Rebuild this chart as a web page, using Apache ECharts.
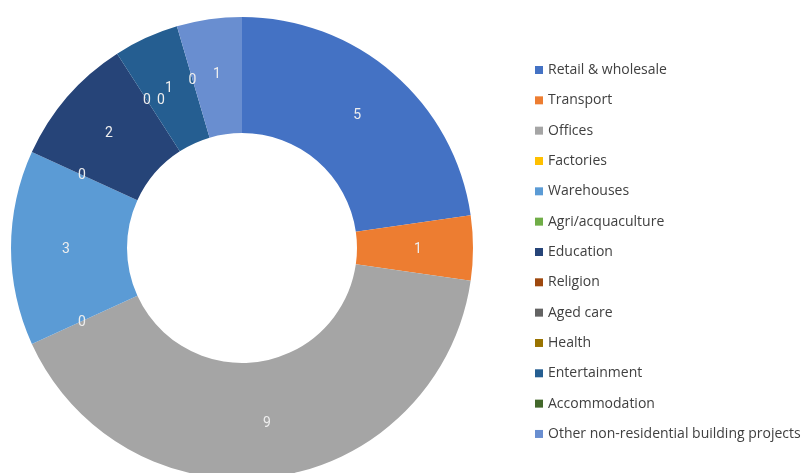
<!DOCTYPE html>
<html><head><meta charset="utf-8">
<script src="https://cdn.jsdelivr.net/npm/echarts@6/dist/echarts.min.js"></script>
<style>html,body{margin:0;padding:0;background:#fff}#c{width:807px;height:473px}</style>
</head><body><div id="c"></div>
<script>
const categories = ["Retail & wholesale","Transport","Offices","Factories","Warehouses","Agri/acquaculture","Education","Religion","Aged care","Health","Entertainment","Accommodation","Other non-residential building projects"];
const values = [5,1,9,0,3,0,2,0,0,0,1,0,1];
const colors = ["#4472C4","#ED7D31","#A5A5A5","#FFC000","#5B9BD5","#70AD47","#264478","#9E480E","#636363","#997300","#255E91","#43682B","#698ED0"];
// small nudges of overlapping zero-value labels (as in the reference)
const labelNudge = {"Aged care":[14,1], "Health":[14,1]};

const chart = echarts.init(document.getElementById('c'), null, {renderer:'canvas'});
chart.setOption({
  animation:false,
  color: colors,
  legend: {
    orient:'vertical', left:535, top:62, padding:0,
    itemWidth:8, itemHeight:8, itemGap:14.33,
    icon:'rect',
    textStyle:{fontFamily:'Open Sans', fontSize:14, color:'#404040', lineHeight:16},
    data: categories
  },
  series:[{
    type:'pie',
    center:[242,248],
    radius:[115,231],
    startAngle:90,
    clockwise:true,
    avoidLabelOverlap:false,
    stillShowZeroSum:true,
    minAngle:0,
    label:{show:true, position:'inside', formatter:'{c}', color:'#eeeeee', fontFamily:'Roboto', fontSize:14, offset:[0,1]},
    labelLine:{show:false},
    itemStyle:{borderWidth:0},
    emphasis:{disabled:true},
    data: categories.map((n,i)=>{
      const d = {name:n, value:values[i]};
      if (labelNudge[n]) d.label = {offset: labelNudge[n]};
      return d;
    })
  }]
});
</script></body></html>
